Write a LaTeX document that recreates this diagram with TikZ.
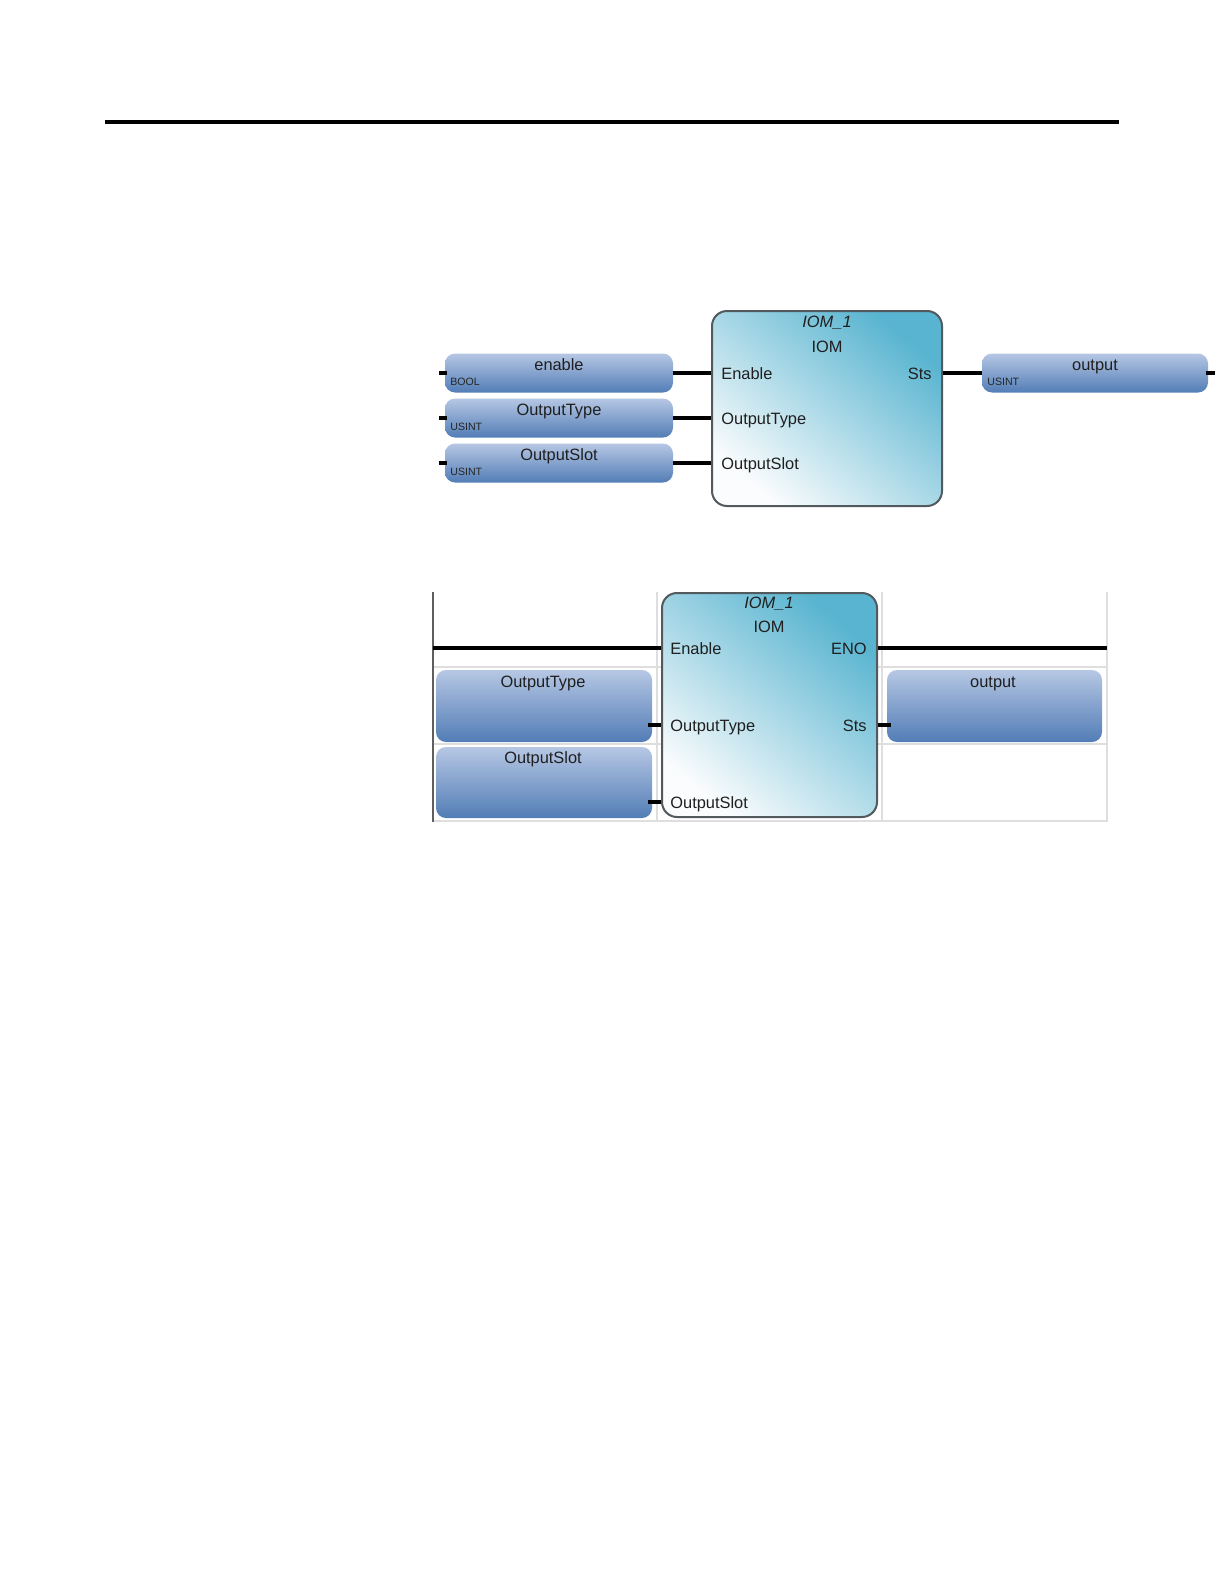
\documentclass[tikz,border=0pt]{standalone}
\usepackage{fontspec}
\setmainfont{Liberation Sans}
\usepackage{tikz}
\definecolor{tagtop}{RGB}{182,199,228}
\definecolor{tagbot}{RGB}{82,125,182}
\definecolor{blkhi}{RGB}{88,180,208}
\definecolor{blkmid}{RGB}{204,233,240}
\definecolor{blklo}{RGB}{250,252,253}
\definecolor{blkedge}{RGB}{82,90,94}
\definecolor{gridln}{RGB}{222,222,222}
\definecolor{railln}{RGB}{95,95,95}
\tikzstyle{tagbox}=[rounded corners=5pt,top color=tagtop,bottom color=tagbot,inner sep=0pt]
\tikzstyle{fbblock}=[draw=blkedge,line width=1pt,rounded corners=7.5pt,inner sep=0pt,top color=blkhi,middle color=blkmid,bottom color=blklo,shading angle=-40]
\tikzstyle{wire}=[line width=2pt]
\tikzstyle{lbl}=[font=\fontsize{8.2}{10}\selectfont,inner sep=0pt,text=black!88]
\tikzstyle{typelbl}=[font=\fontsize{5.3}{6}\selectfont,inner sep=0pt,text=black!85]

\begin{document}
\begin{tikzpicture}[x=0.5pt,y=-0.5pt]
\useasboundingbox (0,0) rectangle (1224,1584);
\draw[line width=2pt] (105,122) -- (1119,122);

\node[tagbox,minimum width=114pt,minimum height=19.5pt] (inEnable) at (559,373) {};
\node[tagbox,minimum width=114pt,minimum height=19.5pt] (inType) at (559,418) {};
\node[tagbox,minimum width=114pt,minimum height=19.5pt] (inSlot) at (559,463) {};
\node[tagbox,minimum width=113pt,minimum height=19.5pt] (outSts) at (1095,373) {};
\node[fbblock,minimum width=115pt,minimum height=97.5pt] (blkA) at (827,408.5) {};
\node[lbl,anchor=base] (tEnable) at (559,370) {enable};
\node[lbl,anchor=base] (tType) at (559,415) {OutputType};
\node[lbl,anchor=base] (tSlot) at (559,460) {OutputSlot};
\node[lbl,anchor=base] (tOut) at (1095,370) {output};
\node[typelbl,anchor=base west] (yEnable) at (450,385) {BOOL};
\node[typelbl,anchor=base west] (yType) at (450,430) {USINT};
\node[typelbl,anchor=base west] (ySlot) at (450,475) {USINT};
\node[typelbl,anchor=base west] (yOut) at (987,385) {USINT};
\node[lbl,anchor=base] (nmA) at (827,327) {\itshape IOM\_1};
\node[lbl,anchor=base] (tyA) at (827,352) {IOM};
\node[lbl,anchor=base west] (pEnA) at (721,379) {Enable};
\node[lbl,anchor=base west] (pTyA) at (721,424) {OutputType};
\node[lbl,anchor=base west] (pSlA) at (721,469) {OutputSlot};
\node[lbl,anchor=base east] (pStA) at (932,379) {Sts};
\coordinate (sEnable) at (439,373);
\coordinate (sType) at (439,418);
\coordinate (sSlot) at (439,463);
\coordinate (sOut) at (1215,373);
\draw[wire] (inEnable.east) -- (inEnable.east -| blkA.west);
\draw[wire] (inType.east) -- (inType.east -| blkA.west);
\draw[wire] (inSlot.east) -- (inSlot.east -| blkA.west);
\draw[wire] (outSts.west -| blkA.east) -- (outSts.west);
\draw[wire] (sEnable) -- ([xshift=1pt]inEnable.west);
\draw[wire] (sType) -- ([xshift=1pt]inType.west);
\draw[wire] (sSlot) -- ([xshift=1pt]inSlot.west);
\draw[wire] ([xshift=-1pt]outSts.east) -- (sOut);

\draw[gridln,line width=0.7pt] (433,667) -- (1107,667) (433,744) -- (1107,744) (433,821) -- (1107,821);
\draw[gridln,line width=0.7pt] (657,592) -- (657,822) (882,592) -- (882,822) (1107,592) -- (1107,822);
\draw[railln,line width=0.7pt] (433,592) -- (433,822);
\node[tagbox,minimum width=108pt,minimum height=36pt] (lkType) at (544,706) {};
\node[tagbox,minimum width=108pt,minimum height=35.5pt] (lkSlot) at (544,782.5) {};
\node[tagbox,minimum width=107.5pt,minimum height=36pt] (lkOut) at (994.5,706) {};
\node[fbblock,minimum width=107.5pt,minimum height=112pt] (blkB) at (769.5,705) {};
\node[lbl,anchor=base] (tlType) at (543,687) {OutputType};
\node[lbl,anchor=base] (tlSlot) at (543,763) {OutputSlot};
\node[lbl,anchor=base] (tlOut) at (993,687) {output};
\node[lbl,anchor=base] (nmB) at (769,608) {\itshape IOM\_1};
\node[lbl,anchor=base] (tyB) at (769,632) {IOM};
\node[lbl,anchor=base west] (pEnB) at (670,654) {Enable};
\node[lbl,anchor=base west] (pTyB) at (670,731) {OutputType};
\node[lbl,anchor=base west] (pSlB) at (670,808) {OutputSlot};
\node[lbl,anchor=base east] (pEoB) at (867,654) {ENO};
\node[lbl,anchor=base east] (pStB) at (867,731) {Sts};
\coordinate (railL) at (433,648);
\coordinate (railR) at (1107,648);
\coordinate (qType) at (648,725);
\coordinate (qSlot) at (648,802);
\coordinate (qSts) at (891,725);
\draw[wire] (railL) -- (railL -| blkB.west);
\draw[wire] (railR -| blkB.east) -- (railR);
\draw[wire] (qType) -- (qType -| blkB.west);
\draw[wire] (qSlot) -- (qSlot -| blkB.west);
\draw[wire] (qSts -| blkB.east) -- (qSts);
\end{tikzpicture}
\end{document}
